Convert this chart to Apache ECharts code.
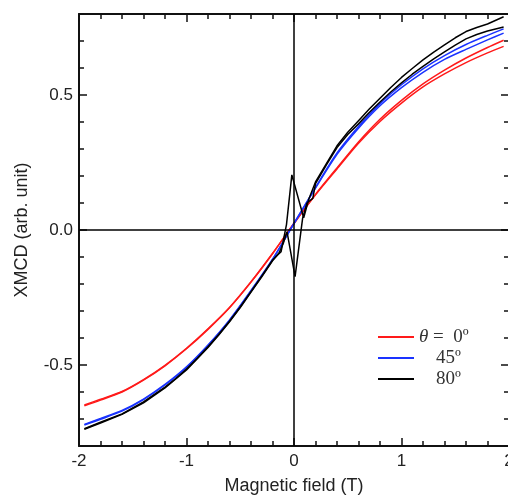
<!DOCTYPE html>
<html>
<head>
<meta charset="utf-8">
<script src="https://cdn.jsdelivr.net/npm/echarts@6/dist/echarts.min.js"></script>
<style>
html,body{margin:0;padding:0;background:#fff;}
#chart{width:508px;height:495px;}
</style>
</head>
<body>
<div id="chart"></div>
<script>
// ---- data ----
const xTicks = [-2, -1, 0, 1, 2];
const yTickLabels = [-0.5, 0.0, 0.5];
const legendNames = ['0', '45', '80'];

// theta = 0 deg (red), two sweep branches
const redX = [-1.95,-1.8,-1.6,-1.4,-1.2,-1.0,-0.8,-0.6,-0.4,-0.2,0,0.2,0.4,0.6,0.8,1.0,1.2,1.4,1.6,1.8,1.95];
const redA = [-0.651,-0.630,-0.600,-0.556,-0.503,-0.440,-0.368,-0.288,-0.193,-0.088,0.025,0.132,0.230,0.326,0.410,0.480,0.541,0.592,0.637,0.676,0.703];
const redB = [-0.648,-0.627,-0.598,-0.554,-0.501,-0.438,-0.366,-0.287,-0.192,-0.087,0.024,0.130,0.226,0.321,0.402,0.470,0.530,0.578,0.620,0.656,0.680];

// theta = 45 deg (blue)
const blueX = [-1.95,-1.8,-1.6,-1.4,-1.2,-1.0,-0.8,-0.6,-0.4,-0.2,0,0.2,0.4,0.6,0.8,1.0,1.2,1.4,1.6,1.8,1.95];
const blueA = [-0.722,-0.701,-0.671,-0.628,-0.574,-0.509,-0.428,-0.335,-0.226,-0.110,0.025,0.158,0.285,0.383,0.468,0.538,0.597,0.646,0.687,0.721,0.745];
const blueB = [-0.720,-0.698,-0.668,-0.626,-0.572,-0.507,-0.426,-0.333,-0.224,-0.108,0.024,0.155,0.280,0.377,0.460,0.527,0.584,0.632,0.669,0.704,0.729];

// theta = 80 deg (black)
const blackXA = [-1.95,-1.8,-1.6,-1.4,-1.2,-1.1,-1.0,-0.9,-0.8,-0.7,-0.6,-0.5,-0.4,-0.3,-0.2,-0.15,-0.12,-0.10,-0.07,-0.02,0.07,0.09,0.14,0.2,0.3,0.4,0.5,0.6,0.7,0.8,0.9,1.0,1.1,1.2,1.3,1.4,1.5,1.6,1.7,1.8,1.95];
const blackA  = [-0.736,-0.712,-0.681,-0.637,-0.582,-0.550,-0.515,-0.475,-0.432,-0.387,-0.338,-0.285,-0.228,-0.171,-0.112,-0.092,-0.080,-0.040,0.020,0.204,0.074,0.045,0.117,0.178,0.245,0.312,0.362,0.405,0.448,0.488,0.528,0.565,0.598,0.630,0.659,0.686,0.712,0.735,0.750,0.763,0.790];
const blackXB = [-1.95,-1.8,-1.6,-1.4,-1.2,-1.1,-1.0,-0.9,-0.8,-0.7,-0.6,-0.5,-0.4,-0.3,-0.2,-0.14,-0.1,-0.065,0.01,0.08,0.12,0.175,0.2,0.3,0.4,0.5,0.6,0.7,0.8,0.9,1.0,1.1,1.2,1.3,1.4,1.5,1.6,1.7,1.8,1.95];
const blackB  = [-0.738,-0.715,-0.683,-0.640,-0.585,-0.552,-0.518,-0.477,-0.435,-0.389,-0.340,-0.287,-0.230,-0.173,-0.114,-0.085,-0.050,-0.006,-0.173,0.043,0.100,0.117,0.172,0.240,0.305,0.354,0.393,0.435,0.474,0.511,0.545,0.577,0.606,0.634,0.660,0.685,0.708,0.724,0.737,0.752];

// ---- build ----
const zip = (xs, ys) => xs.map((x, i) => [x, ys[i]]);
const colors = {'0': '#ff1a1a', '45': '#1a33ff', '80': '#000000'};
function lineSeries(name, xs, ys, smooth) {
  return {
    type: 'line', name: name, data: zip(xs, ys), symbol: 'none',
    smooth: smooth,
    lineStyle: {color: colors[name], width: 1.5}, itemStyle: {color: colors[name]},
    xAxisIndex: 0, yAxisIndex: 0, silent: true, z: 3
  };
}
const axisColor = '#111';
const sans = '"Liberation Sans", Arial, Helvetica, sans-serif';
const serif = '"Liberation Serif", "Times New Roman", serif';

function xAx(pos, labels) {
  return {
    type: 'value', position: pos, min: -2, max: 2, interval: 1,
    axisLine: {show: true, onZero: false, lineStyle: {color: axisColor, width: 2}},
    axisTick: {show: true, inside: true, length: 8, lineStyle: {color: axisColor, width: 1.5}},
    minorTick: {show: true, splitNumber: 5, length: 5, lineStyle: {color: axisColor, width: 1.5}},
    splitLine: {show: false}, minorSplitLine: {show: false},
    axisLabel: {show: labels, fontSize: 17, color: '#222', fontFamily: sans, margin: 7,
      formatter: v => String(v)},
    name: labels ? 'Magnetic field (T)' : '', nameLocation: 'middle', nameGap: 31,
    nameTextStyle: {fontSize: 18, color: '#222', fontFamily: sans}
  };
}
function yAx(pos, labels, major) {
  return {
    type: 'value', position: pos, min: -0.8, max: 0.8, interval: 0.1,
    axisLine: {show: !major, onZero: false, lineStyle: {color: axisColor, width: 2}},
    axisTick: major
      ? {show: true, inside: true, length: 8, customValues: yTickLabels, lineStyle: {color: axisColor, width: 1.5}}
      : {show: true, inside: true, length: 5, lineStyle: {color: axisColor, width: 1.5}},
    splitLine: {show: false},
    axisLabel: {show: labels, fontSize: 17, color: '#222', fontFamily: sans, margin: 6,
      customValues: yTickLabels, formatter: v => v.toFixed(1)},
    name: labels ? 'XMCD (arb. unit)' : '', nameLocation: 'middle', nameGap: 48,
    nameTextStyle: {fontSize: 18, color: '#222', fontFamily: sans}
  };
}

const series = [
  {
    type: 'line', data: [], xAxisIndex: 0, yAxisIndex: 0, silent: true, z: 2,
    markLine: {
      silent: true, symbol: ['none', 'none'], animation: false,
      label: {show: false},
      lineStyle: {color: '#000', width: 1.5, type: 'solid'},
      emphasis: {disabled: true},
      data: [{xAxis: 0}, {yAxis: 0}]
    }
  },
  lineSeries('0', redX, redA, 0.25),
  lineSeries('0', redX, redB, 0.25),
  lineSeries('45', blueX, blueA, 0.25),
  lineSeries('45', blueX, blueB, 0.25),
  lineSeries('80', blackXA, blackA, false),
  lineSeries('80', blackXB, blackB, false)
];

const chart = echarts.init(document.getElementById('chart'), null, {renderer: 'canvas'});
chart.setOption({
  animation: false,
  backgroundColor: '#fff',
  grid: {left: 79, right: -1, top: 14, bottom: 49, containLabel: false, outerBoundsMode: 'none'},
  xAxis: [xAx('bottom', true), xAx('top', false)],
  yAxis: [yAx('left', true, false), yAx('left', false, true), yAx('right', false, false), yAx('right', false, true)],
  legend: {
    orient: 'vertical', left: 373, top: 322, itemWidth: 36, itemHeight: 2, itemGap: 1,
    icon: 'rect',
    data: legendNames, selectedMode: false,
    textStyle: {fontFamily: serif, fontSize: 19, color: '#333', lineHeight: 20,
      rich: {
        th: {fontFamily: serif, fontSize: 19, fontStyle: 'italic', color: '#333'},
        sp: {width: 17},
        n: {fontFamily: serif, fontSize: 19, color: '#333'}
      }},
    formatter: name => name === '0' ? '{th|θ} =  {n|0º}' : '{sp|}{n|' + name + 'º}'
  },
  series: series
});
</script>
</body>
</html>
